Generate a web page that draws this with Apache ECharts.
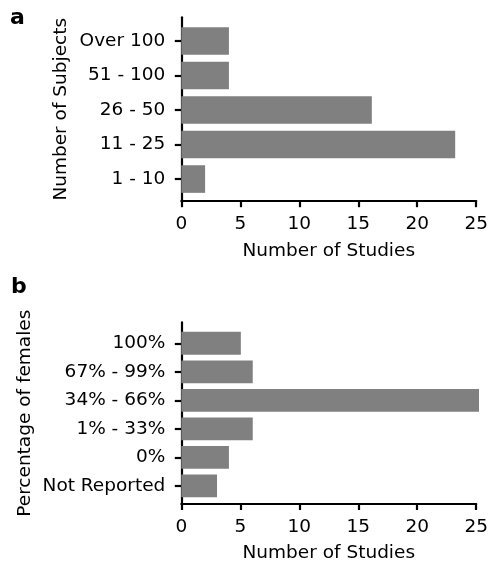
<!DOCTYPE html>
<html>
<head>
<meta charset="utf-8">
<script src="https://cdn.jsdelivr.net/npm/echarts@6/dist/echarts.min.js"></script>
<style>
html,body{margin:0;padding:0;background:#fff;}
#chart{width:491px;height:564px;}
</style>
</head>
<body>
<div id="chart"></div>
<script>
// Panel a
const subjectCategories = ['1 - 10', '11 - 25', '26 - 50', '51 - 100', 'Over 100'];
const subjectStudies = [2, 23, 16, 4, 4];
// Panel b
const femaleCategories = ['Not Reported', '0%', '1% - 33%', '34% - 66%', '67% - 99%', '100%'];
const femaleStudies = [3, 4, 6, 25, 6, 5];
const xTicks = [0, 5, 10, 15, 20, 25];

const FONT = 'DejaVu Sans';
const BAR = '#808080';
const LEFT = 181.3, RIGHT = 491 - 479;

const chart = echarts.init(document.getElementById('chart'), null, {renderer: 'canvas'});

const labelStyle = {color: '#000', fontFamily: FONT, fontSize: 18.5};
const lineStyle = {color: '#000', width: 2.2};

function box(top, bottom) { return {left: LEFT, right: RIGHT, top: top, height: bottom - top}; }

// frame (spines) and data area extents, in px
const aFrame = [17.3, 201.2];
const aData = [23.7, 196.3];
const bFrame = [322.4, 505.2];
const bData = [329.0, 500.2];

const option = {
  animation: false,
  backgroundColor: '#fff',
  title: [
    {text: 'a', left: 10, top: 7, padding: 0, textStyle: {fontFamily: FONT, fontSize: 22, fontWeight: 'bold', color: '#000'}},
    {text: 'b', left: 11, top: 276, padding: 0, textStyle: {fontFamily: FONT, fontSize: 22, fontWeight: 'bold', color: '#000'}}
  ],
  grid: [box(aData[0], aData[1]), box(bData[0], bData[1]), box(aFrame[0], aFrame[1]), box(bFrame[0], bFrame[1])],
  xAxis: [0, 1, 2, 3].map(i => ({
    type: 'value', gridIndex: i, min: xTicks[0], max: xTicks[xTicks.length - 1], interval: xTicks[1] - xTicks[0],
    show: i >= 2,
    name: i >= 2 ? 'Number of Studies' : '',
    nameLocation: 'middle', nameGap: 40,
    nameTextStyle: labelStyle,
    splitLine: {show: false},
    axisLine: {show: true, lineStyle: lineStyle},
    axisTick: {show: true, length: 6, lineStyle: lineStyle},
    axisLabel: Object.assign({margin: 13.5}, labelStyle)
  })),
  yAxis: [
    {type: 'category', gridIndex: 0, data: subjectCategories, axisLine: {show: false},
     axisTick: {show: true, length: 6.5, alignWithLabel: true, lineStyle: lineStyle},
     axisLabel: Object.assign({margin: 16}, labelStyle)},
    {type: 'category', gridIndex: 1, data: femaleCategories, axisLine: {show: false},
     axisTick: {show: true, length: 6.5, alignWithLabel: true, lineStyle: lineStyle},
     axisLabel: Object.assign({margin: 16}, labelStyle)},
    {type: 'value', gridIndex: 2, min: 0, max: 1, splitLine: {show: false}, axisTick: {show: false}, axisLabel: {show: false},
     axisLine: {show: true, lineStyle: lineStyle},
     name: 'Number of Subjects', nameLocation: 'middle', nameGap: 111, nameTextStyle: labelStyle},
    {type: 'value', gridIndex: 3, min: 0, max: 1, splitLine: {show: false}, axisTick: {show: false}, axisLabel: {show: false},
     axisLine: {show: true, lineStyle: lineStyle},
     name: 'Percentage of females', nameLocation: 'middle', nameGap: 147, nameTextStyle: labelStyle}
  ],
  series: [
    {type: 'bar', xAxisIndex: 0, yAxisIndex: 0, data: subjectStudies, barWidth: '80%', itemStyle: {color: BAR}, silent: true},
    {type: 'bar', xAxisIndex: 1, yAxisIndex: 1, data: femaleStudies, barWidth: '80%', itemStyle: {color: BAR}, silent: true}
  ]
};
chart.setOption(option);
</script>
</body>
</html>
